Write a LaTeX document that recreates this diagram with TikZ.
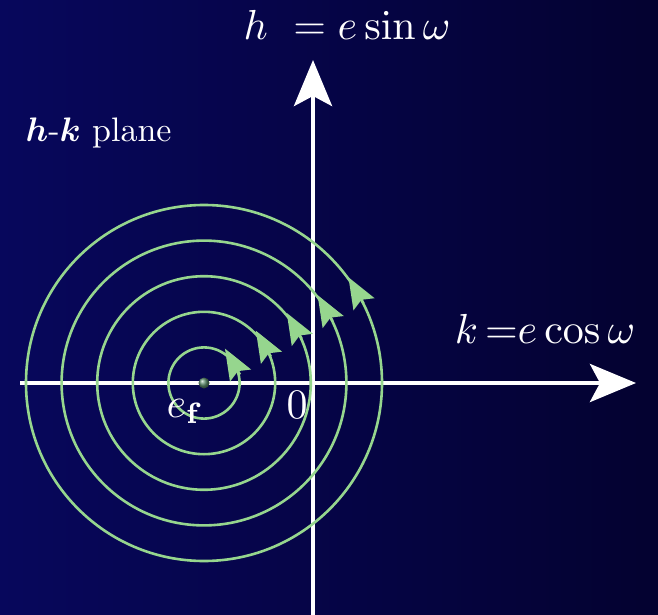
\documentclass[tikz,border=0pt]{standalone}
\usepackage{bm}
\usepackage{xcolor}
\definecolor{navyL}{HTML}{07075C}
\definecolor{navyR}{HTML}{040230}
\definecolor{orbit}{HTML}{96D68E}
\definecolor{pin}{HTML}{5E8E6E}
\usetikzlibrary{arrows.meta,positioning,calc}
\tikzset{
  >=Stealth,
  axis/.style={draw=white,line width=4.5pt,-{Stealth[length=46pt,width=38pt,inset=10pt]}},
  orb/.style={draw=orbit,line width=2.6pt},
  orbtip/.style={draw=orbit,line width=2.6pt,-{Stealth[length=31pt,width=24pt,inset=5pt]}},
  lab/.style={text=white,inner sep=0pt,font=\normalsize,scale=4.2},
  sub/.style={text=white,inner sep=0pt,font=\normalsize,scale=3.4},
}

\begin{document}
\begin{tikzpicture}[x=1pt,y=1pt]
  \shade[left color=navyL,right color=navyR] (0,0) rectangle (658,614);
  \useasboundingbox (0,0) rectangle (658,614);
  \coordinate (c) at (204,231);
  \coordinate (vbot) at (313,-2);
  \coordinate (vtop) at (313,554);
  \coordinate (hleft) at (20,231);
  \coordinate (hright) at (636,231);
  \draw[axis] (vbot) -- (vtop);
  \draw[axis] (hleft) -- (hright);
  % nested orbits, one arrow each
  \foreach \i in {1,...,5} {
    \draw[orb] (c) circle ({35.6*\i});
    \pgfmathsetmacro\ang{30+7/\i}
    \draw[orbtip] ($(c)+(\ang:{35.6*\i})+(300:15)$) -- ++(120:30);
  }
  \node[circle,inner sep=0pt,minimum size=11pt,shade,ball color=pin] (ctr) at (c) {};
  \node[lab,anchor=base] (hlab) at (347,574) {$h\ = e\sin\omega$};
  \node[lab,anchor=base] (klab) at (545,271) {$k\,{=}e\cos\omega$};
  \node[sub,anchor=base west] (plane) at (25,472) {$\bm{h}$-$\bm{k}$ plane};
  \node[lab,anchor=base] (ef) at (185,197) {$e_{\mathbf{f}}$};
  \node[lab,anchor=base] (orig) at (297,196) {$0$};
\end{tikzpicture}
\end{document}
